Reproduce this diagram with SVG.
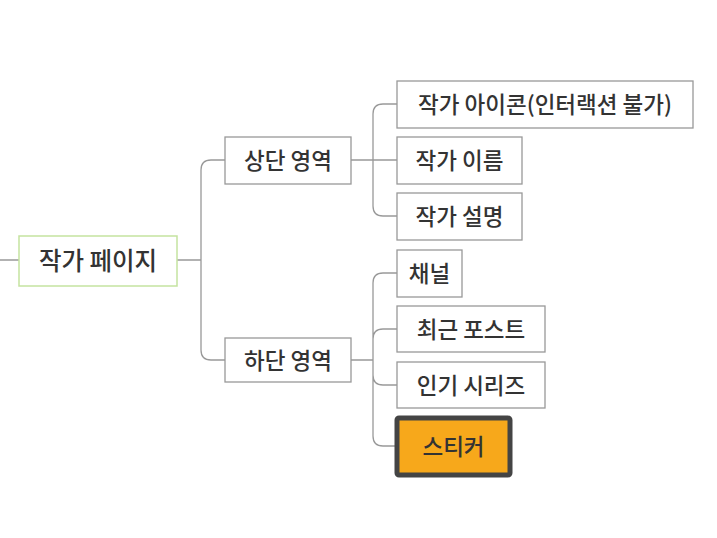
<svg xmlns="http://www.w3.org/2000/svg" width="717" height="538" viewBox="0 0 717 538">
<style>
.b{fill:#fff;stroke:#999;stroke-width:1.3}
.t{font-family:"Noto Sans CJK KR",sans-serif;font-size:22.5px;font-weight:500;fill:#333;dominant-baseline:central;text-anchor:middle}
.c{fill:none;stroke:#999;stroke-width:1.3}
</style>
<rect width="717" height="538" fill="#fff"/>
<g id="connectors">
<path class="c" d="M0 260H19M177 260H201M225 160H211Q201 160 201 170V350Q201 360 211 360H225"/>
<path class="c" d="M351 160H397M373 160V114Q373 104 383 104H397M373 160V206Q373 216 383 216H397"/>
<path class="c" d="M351 360H373M373 360V283Q373 273 383 273H397M373 360V339Q373 329 383 329H397M373 360V375Q373 385 383 385H397M373 360V436Q373 446 383 446H397"/>
</g>
<g id="root"><rect x="19" y="236" width="158" height="50" fill="#fff" stroke="#c5e3a0" stroke-width="1.5"/><text class="t" x="98" y="259" style="font-size:24.5px">작가 페이지</text></g>
<g id="top"><rect class="b" x="225" y="137" width="126" height="47"/><text class="t" x="288" y="159">상단 영역</text></g>
<g id="bottom"><rect class="b" x="225" y="338" width="126" height="44"/><text class="t" x="288" y="359">하단 영역</text></g>
<g id="icon"><rect class="b" x="397" y="81" width="296" height="47"/><text class="t" x="545" y="103">작가 아이콘(인터랙션 불가)</text></g>
<g id="name"><rect class="b" x="397" y="137" width="125" height="47"/><text class="t" x="459.5" y="159">작가 이름</text></g>
<g id="desc"><rect class="b" x="397" y="193" width="125" height="47"/><text class="t" x="459.5" y="215">작가 설명</text></g>
<g id="channel"><rect class="b" x="397" y="250" width="65" height="47"/><text class="t" x="429.5" y="272">채널</text></g>
<g id="recent"><rect class="b" x="397" y="306" width="148" height="46"/><text class="t" x="471" y="328">최근 포스트</text></g>
<g id="popular"><rect class="b" x="397" y="362" width="148" height="46"/><text class="t" x="471" y="384">인기 시리즈</text></g>
<g id="sticker"><rect x="397" y="418" width="113" height="57" rx="2" fill="#f7a81b" stroke="#444" stroke-width="5"/><text class="t" x="453.5" y="445">스티커</text></g>
</svg>
